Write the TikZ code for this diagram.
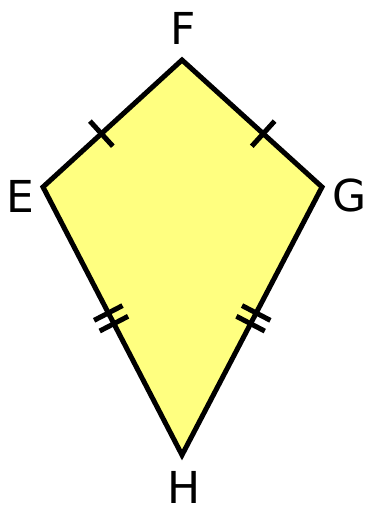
\documentclass[tikz,border=0pt]{standalone}
\usepackage{fontspec}
\setmainfont{DejaVu Sans}
\usetikzlibrary{calc}
\definecolor{kitefill}{HTML}{FFFF80}
\tikzset{
  kite/.style={draw=black,line width=5pt,line join=miter,fill=kitefill},
  tick/.style={draw=black,line width=5pt},
  vlabel/.style={font=\fontsize{44}{44}\selectfont,inner sep=0pt},
}
\begin{document}
\begin{tikzpicture}[x=1pt,y=-1pt]
  \useasboundingbox (0,0) rectangle (366,506);
  % vertices
  \coordinate (F) at (182,60);
  \coordinate (E) at (43,187);
  \coordinate (G) at (322,187);
  \coordinate (H) at (182,455);
  \draw[kite] (E) -- (F) -- (G) -- (H) -- cycle;
  % equal sides
  \foreach \a/\b in {E/F,G/F}
    \draw[tick] ($(\a)!0.42!(\b)!17pt!90:(\b)$) -- ($(\a)!0.42!(\b)!17pt!-90:(\b)$);
  \foreach \a/\b in {E/H,G/H}
    \foreach \p in {0.47,0.51}
      \draw[tick] ($(\a)!\p!(\b)!16pt!90:(\b)$) -- ($(\a)!\p!(\b)!16pt!-90:(\b)$);
  % labels
  \node[vlabel] (lF) at (183,28) {F};
  \node[vlabel] (lE) at (20,196) {E};
  \node[vlabel] (lG) at (350,195) {G};
  \node[vlabel] (lH) at (184,487) {H};
\end{tikzpicture}
\end{document}
